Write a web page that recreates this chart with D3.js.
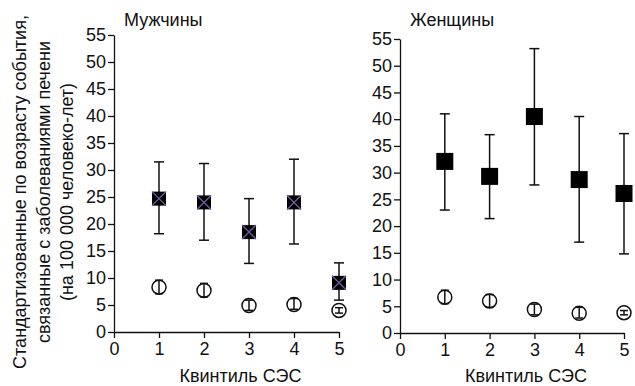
<!DOCTYPE html>
<html>
<head>
<meta charset=utf-8 />
<title>Liver events by SES quintile</title>
<style type="text/css">
body { margin:0; background:#fff; }
text { font-family: "Liberation Sans", Arial, sans-serif; fill:#111; }
</style>
<script src="https://d3js.org/d3.v7.min.js"></script>
</head>
<body>
<div id="chart-container"></div>
<script>

// quintiles and values
var quintiles = [1, 2, 3, 4, 5];
var xTicks = [0, 1, 2, 3, 4, 5];
var yTicks = [0, 5, 10, 15, 20, 25, 30, 35, 40, 45, 50, 55];

var menLiver = [24.7, 24.0, 18.5, 24.0, 9.1];
var menLiverLo = [18.2, 17.0, 12.7, 16.3, 5.9];
var menLiverHi = [31.5, 31.2, 24.7, 32.0, 12.8];
var menOther = [8.3, 7.7, 4.9, 5.1, 4.0];
var menOtherLo = [7.1, 6.5, 4.0, 4.2, 3.5];
var menOtherHi = [9.6, 9.0, 5.9, 6.2, 4.5];

var womenLiver = [32.1, 29.3, 40.5, 28.7, 26.1];
var womenLiverLo = [23.0, 21.4, 27.7, 17.0, 14.8];
var womenLiverHi = [41.0, 37.1, 53.2, 40.5, 37.3];
var womenOther = [6.7, 6.0, 4.4, 3.7, 3.8];
var womenOtherLo = [5.5, 4.8, 3.4, 2.8, 3.4];
var womenOtherHi = [8.0, 7.2, 5.4, 4.8, 4.2];

var svg = d3.select("#chart-container")
  .append("svg")
    .attr("width", 635)
    .attr("height", 386);

// y axis label, three lines
var ylab = svg.append("text")
    .attr("transform", "translate(0,192) rotate(-90)")
    .attr("text-anchor", "middle")
    .style("font-size", "18px");
ylab.append("tspan").attr("x", 0).attr("y", 26).text("Стандартизованные по возрасту события,");
ylab.append("tspan").attr("x", 0).attr("y", 50).text("связанные с заболеваниями печени");
ylab.append("tspan").attr("x", 0).attr("y", 73).text("(на 100 000 человеко-лет)");

function panel(opts) {
  var g = svg.append("g");

  var x = d3.scaleLinear().domain([0, 5]).range([opts.left, opts.right]);
  var y = d3.scaleLinear().domain([0, 55]).range([opts.bottom, opts.top]);

  g.append("g")
    .attr("transform", "translate(0," + opts.bottom + ")")
    .call(d3.axisBottom(x).tickValues(xTicks).tickFormat(d3.format("d"))
            .tickSize(6).tickSizeOuter(0).tickPadding(4))
    .call(a => a.selectAll("text").style("font-size", "18px").attr("fill", "#111"));

  g.append("g")
    .attr("transform", "translate(" + opts.left + ",0)")
    .call(d3.axisLeft(y).tickValues(yTicks).tickSize(6).tickSizeOuter(0).tickPadding(2))
    .call(a => a.selectAll("text").style("font-size", "18px").attr("fill", "#111"));

  g.selectAll(".domain, .tick line").attr("stroke", "#111").attr("stroke-width", 1.3);

  g.append("text")
    .attr("x", opts.titleX)
    .attr("y", 26)
    .style("font-size", "18px")
    .text(opts.title);

  g.append("text")
    .attr("x", (opts.left + opts.right) / 2 + 14)
    .attr("y", 382)
    .attr("text-anchor", "middle")
    .style("font-size", "18px")
    .text("Квинтиль СЭС");

  function errbars(lo, hi, cap) {
    quintiles.forEach(function(q, i) {
      g.append("line")
        .attr("x1", x(q)).attr("x2", x(q))
        .attr("y1", y(lo[i])).attr("y2", y(hi[i]))
        .attr("stroke", "#111").attr("stroke-width", 1.5);
      [lo[i], hi[i]].forEach(function(v) {
        g.append("line")
          .attr("x1", x(q) - cap).attr("x2", x(q) + cap)
          .attr("y1", y(v)).attr("y2", y(v))
          .attr("stroke", "#111").attr("stroke-width", 1.5);
      });
    });
  }

  // liver events: filled squares
  errbars(opts.liverLo, opts.liverHi, 5);
  var s = opts.sq;
  g.selectAll(".sq")
    .data(opts.liver)
    .enter()
    .append("rect")
    .attr("x", (d, i) => x(quintiles[i]) - s / 2)
    .attr("y", d => y(d) - s / 2)
    .attr("width", s)
    .attr("height", s)
    .attr("fill", "#000");

  if (opts.cross) {
    opts.liver.forEach(function(d, i) {
      var cx = x(quintiles[i]), cy = y(d), h = s / 2;
      g.append("path")
        .attr("d", "M" + (cx - h) + "," + (cy - h) + "L" + (cx + h) + "," + (cy + h) +
                   "M" + (cx - h) + "," + (cy + h) + "L" + (cx + h) + "," + (cy - h))
        .attr("stroke", "#6b5b9e")
        .attr("stroke-width", 1.4);
    });
  }

  // other events: open circles with small bars inside
  g.selectAll(".ci")
    .data(opts.other)
    .enter()
    .append("circle")
    .attr("cx", (d, i) => x(quintiles[i]))
    .attr("cy", d => y(d))
    .attr("r", 7)
    .attr("fill", "#fff")
    .attr("stroke", "#111")
    .attr("stroke-width", 1.5);
  errbars(opts.otherLo, opts.otherHi, 4);
}

panel({
  left: 114, right: 339, top: 35, bottom: 332,
  title: "Мужчины", titleX: 124, cross: true, sq: 14,
  liver: menLiver, liverLo: menLiverLo, liverHi: menLiverHi,
  other: menOther, otherLo: menOtherLo, otherHi: menOtherHi
});

panel({
  left: 400, right: 624, top: 39, bottom: 333,
  title: "Женщины", titleX: 410, cross: false, sq: 17,
  liver: womenLiver, liverLo: womenLiverLo, liverHi: womenLiverHi,
  other: womenOther, otherLo: womenOtherLo, otherHi: womenOtherHi
});

</script>
</body>
</html>
